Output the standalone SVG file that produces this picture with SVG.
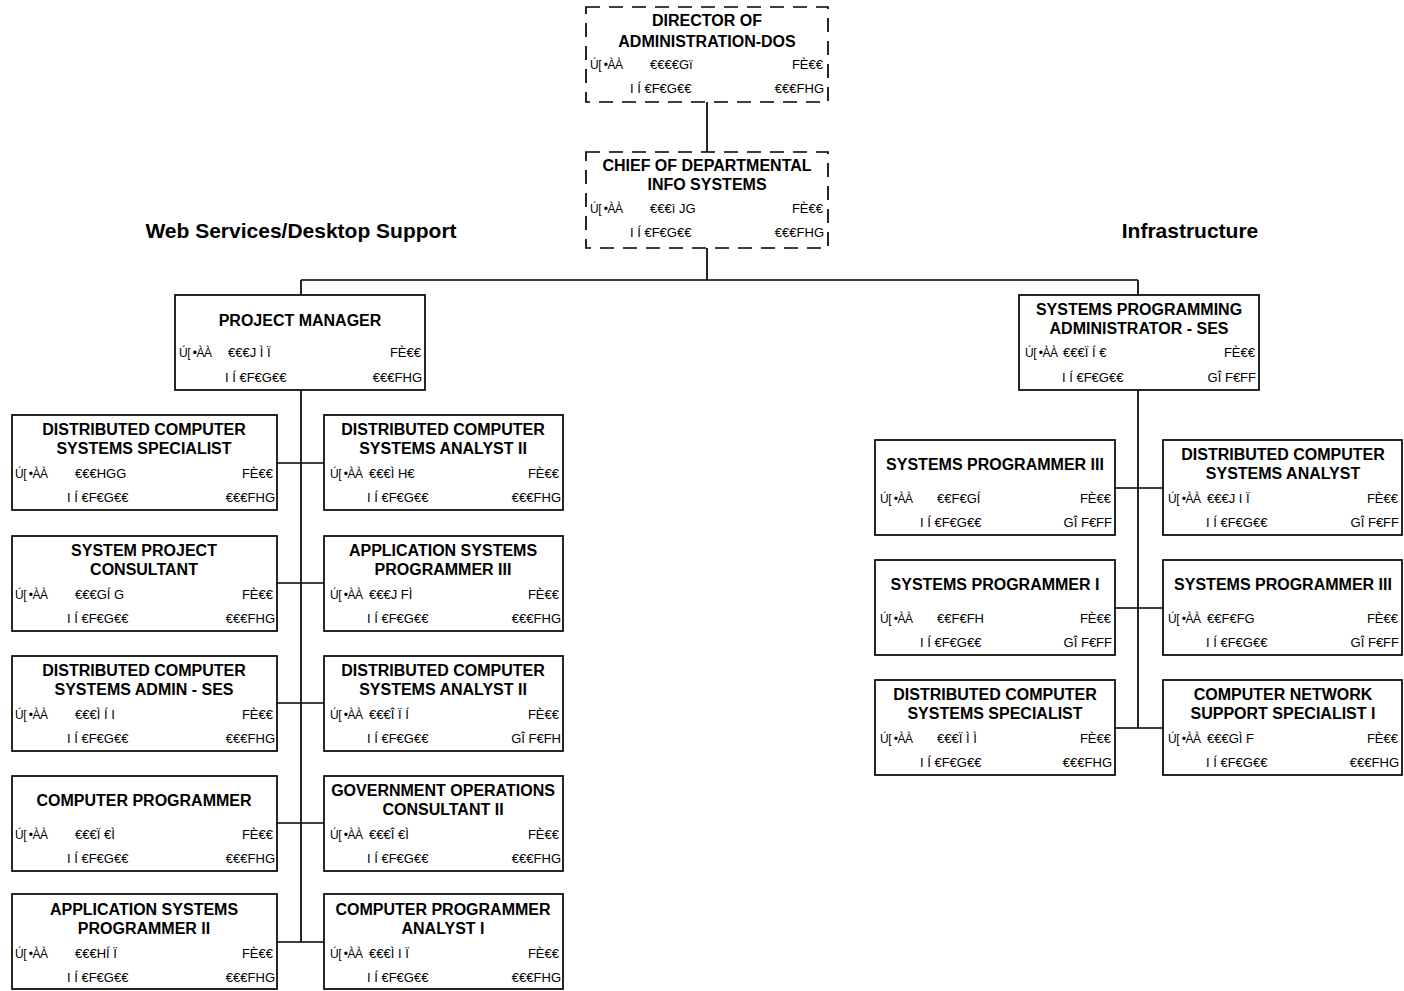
<svg xmlns="http://www.w3.org/2000/svg" width="1404" height="991" viewBox="0 0 1404 991">
<style>
.box{fill:#fff;stroke:#000;stroke-width:1.7}
.dash{stroke-dasharray:14 9}
.t{font-family:"Liberation Sans",Arial,sans-serif;font-weight:bold;font-size:16px;fill:#000;text-anchor:middle}
.d{font-family:"Liberation Sans",Arial,sans-serif;font-size:13px;fill:#000}
.u{font-size:12px;letter-spacing:-0.5px}
.r{text-anchor:end}
.sec{font-family:"Liberation Sans",Arial,sans-serif;font-weight:bold;font-size:21px;fill:#000;text-anchor:middle}
.conn path{fill:none;stroke:#000;stroke-width:1.7}
</style>
<rect width="1404" height="991" fill="#fff"/>
<g class="conn">
<path d="M707,102 V152"/>
<path d="M707,248 V280 M301,280 H1138 M301,280 V295 M1138,280 V295"/>
<path d="M301,390 V942"/>
<path d="M277,463 H324 M277,583 H324 M277,703 H324 M277,823 H324 M277,942 H324"/>
<path d="M1138,390 V728"/>
<path d="M1115,488 H1163 M1115,608 H1163 M1115,728 H1163"/>
</g>
<text class="sec" x="301" y="238">Web Services/Desktop Support</text>
<text class="sec" x="1190" y="238">Infrastructure</text>

<g id="director">
<rect class="box dash" x="586" y="7" width="242" height="95"/>
<text class="t" x="707" y="26">DIRECTOR OF</text>
<text class="t" x="707" y="47">ADMINISTRATION-DOS</text>
<text class="d u" x="590" y="69">Ú[ •ÀÀ</text><text class="d" x="650" y="69">€€€€Gï</text><text class="d r" x="823" y="69">FÈ€€</text>
<text class="d" x="630" y="93">I Í €F€G€€</text><text class="d r" x="824" y="93">€€€FHG</text>
</g>
<g id="chief">
<rect class="box dash" x="586" y="152" width="242" height="96"/>
<text class="t" x="707" y="171">CHIEF OF DEPARTMENTAL</text>
<text class="t" x="707" y="190">INFO SYSTEMS</text>
<text class="d u" x="590" y="213">Ú[ •ÀÀ</text><text class="d" x="650" y="213">€€€ì JG</text><text class="d r" x="823" y="213">FÈ€€</text>
<text class="d" x="630" y="237">I Í €F€G€€</text><text class="d r" x="824" y="237">€€€FHG</text>
</g>
<g id="pm">
<rect class="box" x="175" y="295" width="250" height="95"/>
<text class="t" x="300" y="326">PROJECT MANAGER</text>
<text class="d u" x="179" y="357">Ú[ •ÀÀ</text><text class="d" x="228" y="357">€€€J Ì Ï</text><text class="d r" x="421" y="357">FÈ€€</text>
<text class="d" x="225" y="382">I Í €F€G€€</text><text class="d r" x="422" y="382">€€€FHG</text>
</g>
<g id="spa">
<rect class="box" x="1019" y="295" width="240" height="95"/>
<text class="t" x="1139" y="315">SYSTEMS PROGRAMMING</text>
<text class="t" x="1139" y="334">ADMINISTRATOR - SES</text>
<text class="d u" x="1025" y="357">Ú[ •ÀÀ</text><text class="d" x="1063" y="357">€€€Ï Í €</text><text class="d r" x="1255" y="357">FÈ€€</text>
<text class="d" x="1062" y="382">I Í €F€G€€</text><text class="d r" x="1256" y="382">GÎ F€FF</text>
</g>

<!-- left column -->
<g id="l1">
<rect class="box" x="12" y="415" width="265" height="95"/>
<text class="t" x="144" y="435">DISTRIBUTED COMPUTER</text>
<text class="t" x="144" y="454">SYSTEMS SPECIALIST</text>
<text class="d u" x="15" y="478">Ú[ •ÀÀ</text><text class="d" x="75" y="478">€€€HGG</text><text class="d r" x="273" y="478">FÈ€€</text>
<text class="d" x="67" y="502">I Í €F€G€€</text><text class="d r" x="275" y="502">€€€FHG</text>
</g>
<g id="l2">
<rect class="box" x="12" y="536" width="265" height="95"/>
<text class="t" x="144" y="556">SYSTEM PROJECT</text>
<text class="t" x="144" y="575">CONSULTANT</text>
<text class="d u" x="15" y="599">Ú[ •ÀÀ</text><text class="d" x="75" y="599">€€€GÍ G</text><text class="d r" x="273" y="599">FÈ€€</text>
<text class="d" x="67" y="623">I Í €F€G€€</text><text class="d r" x="275" y="623">€€€FHG</text>
</g>
<g id="l3">
<rect class="box" x="12" y="656" width="265" height="95"/>
<text class="t" x="144" y="676">DISTRIBUTED COMPUTER</text>
<text class="t" x="144" y="695">SYSTEMS ADMIN - SES</text>
<text class="d u" x="15" y="719">Ú[ •ÀÀ</text><text class="d" x="75" y="719">€€€Ì Í I</text><text class="d r" x="273" y="719">FÈ€€</text>
<text class="d" x="67" y="743">I Í €F€G€€</text><text class="d r" x="275" y="743">€€€FHG</text>
</g>
<g id="l4">
<rect class="box" x="12" y="776" width="265" height="95"/>
<text class="t" x="144" y="806">COMPUTER PROGRAMMER</text>
<text class="d u" x="15" y="839">Ú[ •ÀÀ</text><text class="d" x="75" y="839">€€€Ï €Ì</text><text class="d r" x="273" y="839">FÈ€€</text>
<text class="d" x="67" y="863">I Í €F€G€€</text><text class="d r" x="275" y="863">€€€FHG</text>
</g>
<g id="l5">
<rect class="box" x="12" y="894" width="265" height="95"/>
<text class="t" x="144" y="915">APPLICATION SYSTEMS</text>
<text class="t" x="144" y="934">PROGRAMMER II</text>
<text class="d u" x="15" y="958">Ú[ •ÀÀ</text><text class="d" x="75" y="958">€€€HÍ Ï</text><text class="d r" x="273" y="958">FÈ€€</text>
<text class="d" x="67" y="982">I Í €F€G€€</text><text class="d r" x="275" y="982">€€€FHG</text>
</g>

<!-- middle column -->
<g id="m1">
<rect class="box" x="324" y="415" width="239" height="95"/>
<text class="t" x="443" y="435">DISTRIBUTED COMPUTER</text>
<text class="t" x="443" y="454">SYSTEMS ANALYST II</text>
<text class="d u" x="330" y="478">Ú[ •ÀÀ</text><text class="d" x="369" y="478">€€€Ì H€</text><text class="d r" x="559" y="478">FÈ€€</text>
<text class="d" x="367" y="502">I Í €F€G€€</text><text class="d r" x="561" y="502">€€€FHG</text>
</g>
<g id="m2">
<rect class="box" x="324" y="536" width="239" height="95"/>
<text class="t" x="443" y="556">APPLICATION SYSTEMS</text>
<text class="t" x="443" y="575">PROGRAMMER III</text>
<text class="d u" x="330" y="599">Ú[ •ÀÀ</text><text class="d" x="369" y="599">€€€J FÌ</text><text class="d r" x="559" y="599">FÈ€€</text>
<text class="d" x="367" y="623">I Í €F€G€€</text><text class="d r" x="561" y="623">€€€FHG</text>
</g>
<g id="m3">
<rect class="box" x="324" y="656" width="239" height="95"/>
<text class="t" x="443" y="676">DISTRIBUTED COMPUTER</text>
<text class="t" x="443" y="695">SYSTEMS ANALYST II</text>
<text class="d u" x="330" y="719">Ú[ •ÀÀ</text><text class="d" x="369" y="719">€€€Î Ï Í</text><text class="d r" x="559" y="719">FÈ€€</text>
<text class="d" x="367" y="743">I Í €F€G€€</text><text class="d r" x="561" y="743">GÎ F€FH</text>
</g>
<g id="m4">
<rect class="box" x="324" y="776" width="239" height="95"/>
<text class="t" x="443" y="796">GOVERNMENT OPERATIONS</text>
<text class="t" x="443" y="815">CONSULTANT II</text>
<text class="d u" x="330" y="839">Ú[ •ÀÀ</text><text class="d" x="369" y="839">€€€Î €Ì</text><text class="d r" x="559" y="839">FÈ€€</text>
<text class="d" x="367" y="863">I Í €F€G€€</text><text class="d r" x="561" y="863">€€€FHG</text>
</g>
<g id="m5">
<rect class="box" x="324" y="894" width="239" height="95"/>
<text class="t" x="443" y="915">COMPUTER PROGRAMMER</text>
<text class="t" x="443" y="934">ANALYST I</text>
<text class="d u" x="330" y="958">Ú[ •ÀÀ</text><text class="d" x="369" y="958">€€€Ì I Ï</text><text class="d r" x="559" y="958">FÈ€€</text>
<text class="d" x="367" y="982">I Í €F€G€€</text><text class="d r" x="561" y="982">€€€FHG</text>
</g>

<!-- right side, left column -->
<g id="rl1">
<rect class="box" x="875" y="440" width="240" height="95"/>
<text class="t" x="995" y="470">SYSTEMS PROGRAMMER III</text>
<text class="d u" x="880" y="503">Ú[ •ÀÀ</text><text class="d" x="937" y="503">€€F€GÍ</text><text class="d r" x="1111" y="503">FÈ€€</text>
<text class="d" x="920" y="527">I Í €F€G€€</text><text class="d r" x="1112" y="527">GÎ F€FF</text>
</g>
<g id="rl2">
<rect class="box" x="875" y="560" width="240" height="95"/>
<text class="t" x="995" y="590">SYSTEMS PROGRAMMER I</text>
<text class="d u" x="880" y="623">Ú[ •ÀÀ</text><text class="d" x="937" y="623">€€F€FH</text><text class="d r" x="1111" y="623">FÈ€€</text>
<text class="d" x="920" y="647">I Í €F€G€€</text><text class="d r" x="1112" y="647">GÎ F€FF</text>
</g>
<g id="rl3">
<rect class="box" x="875" y="680" width="240" height="95"/>
<text class="t" x="995" y="700">DISTRIBUTED COMPUTER</text>
<text class="t" x="995" y="719">SYSTEMS SPECIALIST</text>
<text class="d u" x="880" y="743">Ú[ •ÀÀ</text><text class="d" x="937" y="743">€€€Ï Ì Ì</text><text class="d r" x="1111" y="743">FÈ€€</text>
<text class="d" x="920" y="767">I Í €F€G€€</text><text class="d r" x="1112" y="767">€€€FHG</text>
</g>

<!-- right side, right column -->
<g id="rr1">
<rect class="box" x="1163" y="440" width="239" height="95"/>
<text class="t" x="1283" y="460">DISTRIBUTED COMPUTER</text>
<text class="t" x="1283" y="479">SYSTEMS ANALYST</text>
<text class="d u" x="1168" y="503">Ú[ •ÀÀ</text><text class="d" x="1207" y="503">€€€J I Ï</text><text class="d r" x="1398" y="503">FÈ€€</text>
<text class="d" x="1206" y="527">I Í €F€G€€</text><text class="d r" x="1399" y="527">GÎ F€FF</text>
</g>
<g id="rr2">
<rect class="box" x="1163" y="560" width="239" height="95"/>
<text class="t" x="1283" y="590">SYSTEMS PROGRAMMER III</text>
<text class="d u" x="1168" y="623">Ú[ •ÀÀ</text><text class="d" x="1207" y="623">€€F€FG</text><text class="d r" x="1398" y="623">FÈ€€</text>
<text class="d" x="1206" y="647">I Í €F€G€€</text><text class="d r" x="1399" y="647">GÎ F€FF</text>
</g>
<g id="rr3">
<rect class="box" x="1163" y="680" width="239" height="95"/>
<text class="t" x="1283" y="700">COMPUTER NETWORK</text>
<text class="t" x="1283" y="719">SUPPORT SPECIALIST I</text>
<text class="d u" x="1168" y="743">Ú[ •ÀÀ</text><text class="d" x="1207" y="743">€€€GÌ F</text><text class="d r" x="1398" y="743">FÈ€€</text>
<text class="d" x="1206" y="767">I Í €F€G€€</text><text class="d r" x="1399" y="767">€€€FHG</text>
</g>
</svg>
